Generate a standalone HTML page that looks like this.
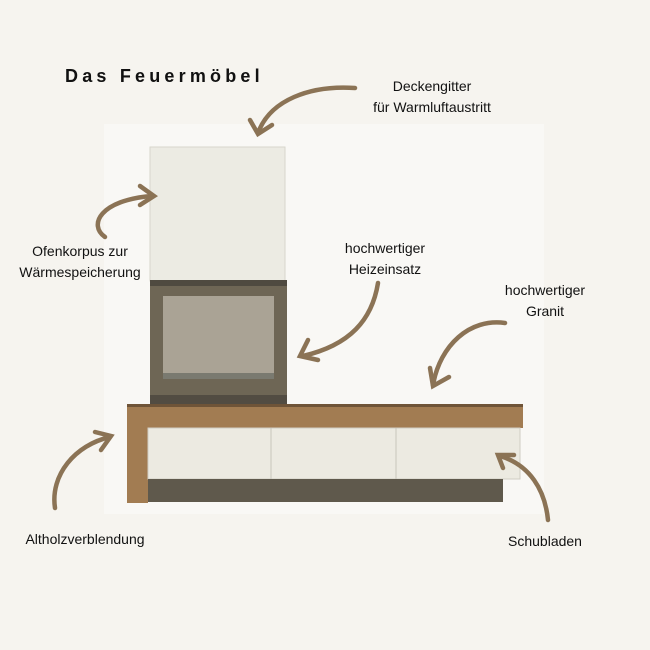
<!DOCTYPE html>
<html><head><style>
body{margin:0;background:#f6f4ef;width:650px;height:650px;overflow:hidden;position:relative;font-family:"Liberation Sans",sans-serif;}
.t{position:absolute;font-size:14px;color:#111;text-align:center;line-height:21px;}
</style></head><body>
<div style="position:absolute;left:104px;top:124px;width:440px;height:390px;background:#f9f8f5"></div>
<div style="position:absolute;left:65px;top:66px;font-size:18px;font-weight:bold;letter-spacing:4.2px;color:#111">Das Feuermöbel</div>
<div class="t" style="left:352px;top:76px;width:160px">Deckengitter<br>für Warmluftaustritt</div>
<div class="t" style="left:5px;top:241px;width:150px">Ofenkorpus zur<br>Wärmespeicherung</div>
<div class="t" style="left:325px;top:238px;width:120px">hochwertiger<br>Heizeinsatz</div>
<div class="t" style="left:485px;top:280px;width:120px">hochwertiger<br>Granit</div>
<div class="t" style="left:10px;top:529px;width:150px">Altholzverblendung</div>
<div class="t" style="left:490px;top:531px;width:110px">Schubladen</div>
<svg width="650" height="650" style="position:absolute;left:0;top:0">
<rect x="150" y="147" width="135" height="134" fill="#ecebe3" stroke="#d8d6cc"/>
<rect x="150" y="280" width="137" height="125" fill="#6e6655"/>
<rect x="150" y="280" width="137" height="6" fill="#4f4a40"/>
<rect x="163" y="296" width="111" height="83" fill="#aaa395"/>
<rect x="163" y="373" width="111" height="6" fill="#7a7a70"/>
<rect x="150" y="395" width="137" height="10" fill="#524c42"/>
<rect x="127" y="404" width="396" height="24" fill="#a27c52"/>
<rect x="127" y="404" width="396" height="3" fill="#6f5438"/>
<rect x="127" y="427" width="21" height="76" fill="#a27c52"/>
<rect x="148" y="428" width="372" height="51" fill="#eceae1" stroke="#d0cdc4"/>
<line x1="271" y1="428" x2="271" y2="479" stroke="#c8c5bc"/>
<line x1="396" y1="428" x2="396" y2="479" stroke="#c8c5bc"/>
<rect x="148" y="479" width="355" height="23" fill="#5f594c"/>
<g fill="none" stroke="#8b7355" stroke-width="4.5" stroke-linecap="round">
<path d="M355 88 C310 85 270 100 258 133"/><path d="M250 120 L258 134 L272 125"/>
<path d="M105 237 C88 225 100 200 152 196"/><path d="M140 186 L154 196 L140 205"/>
<path d="M378 283 C372 320 350 345 303 356"/><path d="M308 340 L300 356 L318 360"/>
<path d="M505 323 C470 318 440 345 433 385"/><path d="M430 368 L433 386 L449 377"/>
<path d="M55 508 C50 475 75 445 110 437"/><path d="M95 432 L111 436 L101 450"/>
<path d="M548 520 C545 490 530 465 500 456"/><path d="M503 468 L498 455 L514 455"/>
</g>
</svg>
</body></html>
